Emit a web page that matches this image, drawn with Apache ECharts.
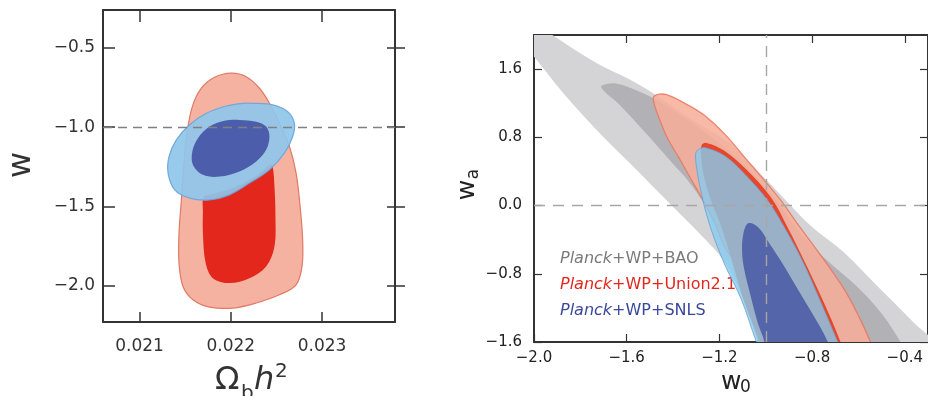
<!DOCTYPE html>
<html>
<head>
<meta charset="utf-8">
<script src="https://cdn.jsdelivr.net/npm/echarts@6.0.0/dist/echarts.min.js"></script>
<style>
    *{margin:0;padding:0;}
    body{background:#fff;}
</style>
</head>
<body>
<div id="main" style="width:928px;height:396px;"></div>
<script type="text/javascript">
var FONT = 'DejaVu Sans';

// ---- left panel: Omega_b h^2 vs w ----
var ombTicks = [0.021, 0.022, 0.023];
var wTicks = [-2.0, -1.5, -1.0, -0.5];
var fidOmb = 0.02205, fidW = -1.0;

var union95Left = [[0.022005,-0.659],[0.022169,-0.681],[0.022315,-0.754],[0.022424,-0.849],[0.022533,-0.975],[0.022643,-1.122],[0.022716,-1.290],[0.022760,-1.501],[0.022788,-1.711],[0.022781,-1.879],[0.022716,-1.995],[0.022533,-2.058],[0.022279,-2.110],[0.022023,-2.142],[0.021768,-2.136],[0.021586,-2.090],[0.021477,-2.006],[0.021433,-1.858],[0.021433,-1.669],[0.021459,-1.459],[0.021484,-1.249],[0.021520,-1.038],[0.021579,-0.870],[0.021678,-0.754],[0.021823,-0.685]];
var union68Left = [[0.021703,-1.440],[0.021695,-1.530],[0.021695,-1.669],[0.021725,-1.858],[0.021804,-1.953],[0.021987,-1.984],[0.022205,-1.953],[0.022388,-1.879],[0.022479,-1.753],[0.022490,-1.564],[0.022479,-1.375],[0.022460,-1.249],[0.022435,-1.235],[0.022260,-1.315],[0.021987,-1.392],[0.021780,-1.425]];
var snls95Left = [[0.022242,-0.849],[0.022460,-0.859],[0.022624,-0.902],[0.022697,-0.975],[0.022679,-1.059],[0.022588,-1.164],[0.022424,-1.269],[0.022205,-1.353],[0.021987,-1.427],[0.021768,-1.459],[0.021550,-1.448],[0.021386,-1.396],[0.021313,-1.290],[0.021324,-1.185],[0.021404,-1.080],[0.021550,-0.985],[0.021732,-0.912],[0.021951,-0.866],[0.022132,-0.849]];
var snls68Left = [[0.022096,-0.954],[0.022279,-0.965],[0.022388,-0.996],[0.022424,-1.059],[0.022388,-1.143],[0.022279,-1.217],[0.022096,-1.280],[0.021878,-1.312],[0.021695,-1.301],[0.021586,-1.238],[0.021579,-1.154],[0.021640,-1.069],[0.021768,-0.996],[0.021932,-0.960]];

// ---- right panel: w0 vs wa ----
var w0Ticks = [-2.0, -1.6, -1.2, -0.8, -0.4];
var waTicks = [-1.6, -0.8, 0.0, 0.8, 1.6];
var fidW0 = -1.0, fidWa = 0.0;

var bao95 = [[-2.103,2.357],[-1.924,2.006],[-1.732,1.674],[-1.589,1.480],[-1.490,1.323],[-1.333,1.034],[-1.161,0.738],[-1.033,0.402],[-0.905,0.035],[-0.805,-0.239],[-0.662,-0.550],[-0.520,-0.941],[-0.377,-1.331],[-0.178,-1.917],[-0.990,-1.917],[-1.033,-1.601],[-1.097,-1.097],[-1.176,-0.667],[-1.290,-0.316],[-1.404,-0.005],[-1.475,0.191],[-1.589,0.504],[-1.732,0.893],[-1.875,1.323],[-1.996,1.733],[-2.081,2.006]];
var bao68 = [[-1.710,1.400],[-1.646,1.432],[-1.547,1.338],[-1.461,1.221],[-1.290,0.917],[-1.119,0.542],[-0.975,0.132],[-0.870,-0.255],[-0.750,-0.606],[-0.603,-0.958],[-0.498,-1.274],[-0.413,-1.625],[-0.327,-2.034],[-0.862,-2.034],[-0.990,-1.332],[-1.119,-0.746],[-1.226,-0.160],[-1.318,0.230],[-1.418,0.542],[-1.525,0.870],[-1.632,1.186],[-1.696,1.338]];
var union95 = [[-1.482,1.283],[-1.432,1.303],[-1.333,1.174],[-1.261,1.049],[-1.176,0.835],[-1.090,0.562],[-1.004,0.288],[-0.933,0.054],[-0.862,-0.219],[-0.776,-0.535],[-0.662,-0.980],[-0.597,-1.308],[-0.550,-1.589],[-0.520,-1.800],[-0.969,-1.800],[-0.978,-1.589],[-1.033,-1.179],[-1.097,-0.804],[-1.176,-0.492],[-1.218,-0.219],[-1.261,0.015],[-1.318,0.288],[-1.375,0.562],[-1.425,0.796],[-1.461,1.030],[-1.482,1.198]];
var union68 = [[-1.277,0.706],[-1.256,0.735],[-1.179,0.642],[-1.085,0.425],[-0.978,0.097],[-0.906,-0.254],[-0.829,-0.676],[-0.752,-1.121],[-0.679,-1.589],[-0.650,-1.858],[-1.007,-1.858],[-1.033,-1.566],[-1.097,-1.097],[-1.161,-0.512],[-1.196,-0.219],[-1.238,0.074],[-1.264,0.308],[-1.277,0.519]];
var snls95 = [[-1.303,0.600],[-1.290,0.659],[-1.260,0.679],[-1.176,0.581],[-1.090,0.367],[-0.990,0.054],[-0.919,-0.258],[-0.841,-0.652],[-0.768,-1.097],[-0.691,-1.589],[-0.657,-1.800],[-1.012,-1.800],[-1.042,-1.589],[-1.106,-1.097],[-1.174,-0.711],[-1.221,-0.395],[-1.256,-0.102],[-1.277,0.132],[-1.294,0.367]];
var snls68 = [[-1.076,-0.208],[-1.033,-0.255],[-0.982,-0.454],[-0.926,-0.688],[-0.862,-0.980],[-0.798,-1.273],[-0.734,-1.589],[-0.712,-1.800],[-0.999,-1.800],[-1.007,-1.589],[-1.033,-1.390],[-1.067,-1.039],[-1.093,-0.746],[-1.102,-0.547],[-1.097,-0.336]];

var legendLabels = ['+WP+BAO', '+WP+Union2.1', '+WP+SNLS'];
var legendColors = ['#7a7a7a', '#e2271d', '#3a489c'];

function fmt(d) {
    return function (v) {
        return (v < -1e-9 ? '\u2212' : '') + Math.abs(v).toFixed(d);
    };
}

function axis(o) {
    var base = {
        type: 'value',
        splitLine: {show: false},
        axisLine: {show: true, onZero: false, lineStyle: {color: '#333', width: 2}},
        axisTick: {show: true, inside: true, length: 8, lineStyle: {color: '#333', width: 1.5}},
        axisLabel: {show: false}
    };
    for (var k in o) base[k] = o[k];
    return base;
}

function contour(points, xi, yi, style) {
    return {
        type: 'custom',
        xAxisIndex: xi,
        yAxisIndex: yi,
        clip: true,
        silent: true,
        data: points,
        encode: {x: 0, y: 1},
        renderItem: function (params, api) {
            if (params.dataIndex !== 0) return null;
            var pts = points.map(function (p) { return api.coord(p); });
            return {
                type: 'polygon',
                shape: {points: pts, smooth: 0.35},
                style: style
            };
        }
    };
}

function fidLines(x, y, color, dash) {
    return {
        silent: true,
        symbol: 'none',
        animation: false,
        label: {show: false},
        lineStyle: {color: color, type: dash, width: 1.4},
        data: [{xAxis: x}, {yAxis: y}]
    };
}

var chart = echarts.init(document.getElementById('main'));

var s4 = contour(snls68Left, 0, 0, {fill: '#4858a8', opacity: 0.95});
s4.markLine = fidLines(fidOmb, fidW, '#808080', [9, 6]);
var r6 = contour(snls68, 2, 3, {fill: '#4a5aa6', opacity: 0.88});
r6.markLine = fidLines(fidW0, fidWa, '#a6a6a6', [11, 8]);

var legendTexts = legendLabels.map(function (t, i) {
    return {
        type: 'text', left: 560, top: 251 + i * 26,
        style: {
            text: '{i|Planck}' + t,
            fill: legendColors[i],
            font: '16px ' + FONT,
            rich: {i: {fontStyle: 'italic', fontSize: 16, fontFamily: FONT, fill: legendColors[i]}}
        }
    };
});

chart.setOption({
    animation: false,
    grid: [
        {left: 103, top: 10, width: 292, height: 312},
        {left: 534, top: 35, width: 397, height: 307}
    ],
    xAxis: [
        axis({gridIndex: 0, position: 'bottom', min: 0.0206, max: 0.0238,
            axisTick: {show: true, inside: true, length: 10, customValues: ombTicks, lineStyle: {color: '#333', width: 1.5}},
            axisLabel: {show: true, customValues: ombTicks, formatter: fmt(3), margin: 16, fontSize: 17, fontFamily: FONT, color: '#333'}}),
        axis({gridIndex: 0, position: 'top', min: 0.0206, max: 0.0238,
            axisTick: {show: true, inside: true, length: 12, customValues: ombTicks, lineStyle: {color: '#333', width: 1.5}}}),
        axis({gridIndex: 1, position: 'bottom', min: -2.0, max: -0.3,
            axisTick: {show: true, inside: true, length: 8, customValues: w0Ticks, lineStyle: {color: '#333', width: 1.2}},
            axisLabel: {show: true, customValues: w0Ticks, formatter: fmt(1), margin: 9, fontSize: 15, fontFamily: FONT, color: '#222'}}),
        axis({gridIndex: 1, position: 'top', min: -2.0, max: -0.3,
            axisTick: {show: true, inside: true, length: 8, customValues: w0Ticks, lineStyle: {color: '#333', width: 1.2}}})
    ],
    yAxis: [
        axis({gridIndex: 0, position: 'left', min: -2.23, max: -0.26,
            axisTick: {show: true, inside: true, length: 12, customValues: wTicks, lineStyle: {color: '#333', width: 1.5}},
            axisLabel: {show: true, customValues: wTicks, formatter: fmt(1), margin: 8, fontSize: 17, fontFamily: FONT, color: '#333'}}),
        axis({gridIndex: 0, position: 'right', min: -2.23, max: -0.26,
            axisTick: {show: true, inside: true, length: 8, customValues: wTicks, lineStyle: {color: '#333', width: 1.5}}}),
        axis({gridIndex: 0, position: 'right', min: -2.23, max: -0.26,
            axisLine: {show: false, onZero: false},
            axisTick: {show: true, inside: false, length: 10, customValues: wTicks, lineStyle: {color: '#333', width: 1.5}}}),
        axis({gridIndex: 1, position: 'left', min: -1.6, max: 2.0,
            axisTick: {show: true, inside: true, length: 8, customValues: waTicks, lineStyle: {color: '#333', width: 1.2}},
            axisLabel: {show: true, customValues: waTicks, formatter: fmt(1), margin: 12, fontSize: 15, fontFamily: FONT, color: '#222'}}),
        axis({gridIndex: 1, position: 'right', min: -1.6, max: 2.0,
            axisTick: {show: true, inside: true, length: 8, customValues: waTicks, lineStyle: {color: '#333', width: 1.2}}})
    ],
    series: [
        contour(union95Left, 0, 0, {fill: '#f6b2a1', stroke: '#e07a66', lineWidth: 1.2}),
        contour(union68Left, 0, 0, {fill: '#e3271d'}),
        contour(snls95Left, 0, 0, {fill: '#8fc5ea', stroke: '#6aa6da', lineWidth: 1.2, opacity: 0.92}),
        s4,
        contour(bao95, 2, 3, {fill: '#d4d4d6'}),
        contour(bao68, 2, 3, {fill: '#b2b2b6'}),
        contour(union95, 2, 3, {fill: '#f7ad99', stroke: '#e8775f', lineWidth: 1.3, opacity: 0.86}),
        contour(union68, 2, 3, {fill: '#e8452a'}),
        contour(snls95, 2, 3, {fill: '#86cbef', stroke: '#6a9fd0', lineWidth: 1, opacity: 0.8}),
        r6
    ],
    graphic: [
        // left y name
        {type: 'text', x: 22, y: 165, rotation: Math.PI / 2,
            style: {text: 'w', font: '32px ' + FONT, fill: '#333', align: 'center', verticalAlign: 'middle'}},
        // left x name: Omega_b h^2
        {type: 'text', x: 215, y: 381, style: {text: '\u03A9', font: '32px ' + FONT, fill: '#333', verticalAlign: 'middle'}},
        {type: 'text', x: 241, y: 394, style: {text: 'b', font: '20px ' + FONT, fill: '#333', verticalAlign: 'middle'}},
        {type: 'text', x: 254, y: 381, style: {text: 'h', font: 'italic 32px ' + FONT, fill: '#333', verticalAlign: 'middle'}},
        {type: 'text', x: 275, y: 372, style: {text: '2', font: '20px ' + FONT, fill: '#333', verticalAlign: 'middle'}},
        // right y name: w_a
        {type: 'text', x: 467, y: 190, rotation: Math.PI / 2,
            style: {text: 'w', font: '25px ' + FONT, fill: '#222', align: 'center', verticalAlign: 'middle'}},
        {type: 'text', x: 474, y: 174, rotation: Math.PI / 2,
            style: {text: 'a', font: '17px ' + FONT, fill: '#222', align: 'center', verticalAlign: 'middle'}},
        // right x name: w_0
        {type: 'text', x: 721, y: 382, style: {text: 'w', font: '25px ' + FONT, fill: '#222', verticalAlign: 'middle'}},
        {type: 'text', x: 740, y: 388, style: {text: '0', font: '17px ' + FONT, fill: '#222', verticalAlign: 'middle'}}
    ].concat(legendTexts)
});
</script>
</body>
</html>
